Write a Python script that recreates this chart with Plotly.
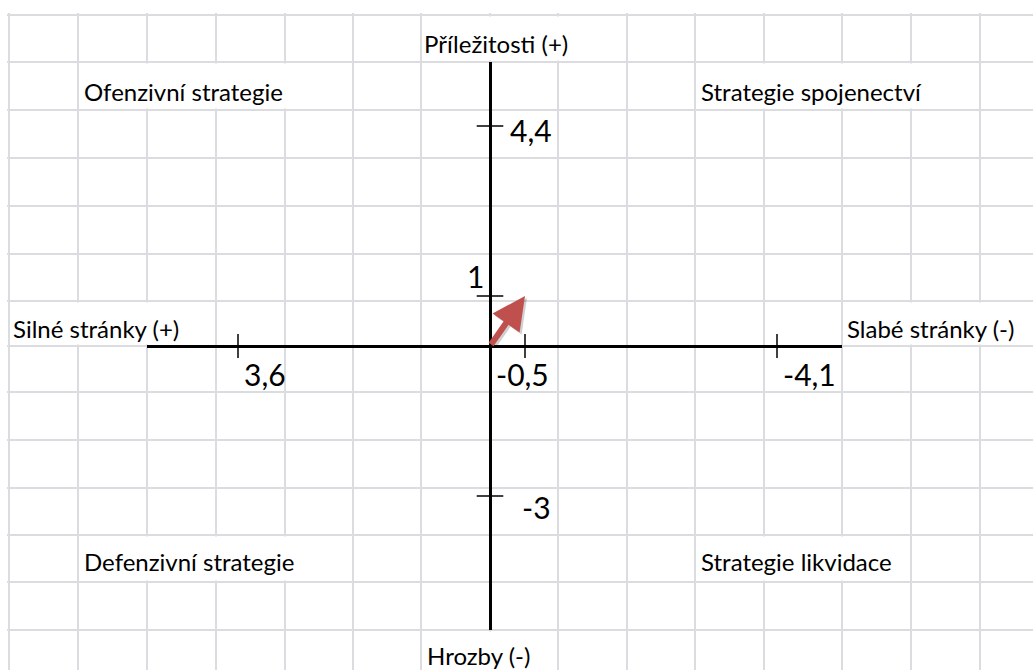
"""SWOT strategy chart drawn over an Excel-like sheet grid."""

import plotly.graph_objects as go

# axis values (x grows to the left: strengths +, weaknesses -)
x_ticks = [3.6, -0.5, -4.1]
x_tick_labels = ["3,6", "-0,5", "-4,1"]
y_ticks = [4.4, 1, -3]
y_tick_labels = ["4,4", "1", "-3"]

# resulting strategy vector
vector_x = [-0.5]
vector_y = [1]

axis_names = ["Příležitosti (+)", "Silné stránky (+)", "Slabé stránky (-)", "Hrozby (-)"]
quadrant_names = ["Ofenzivní strategie", "Strategie spojenectví",
                  "Defenzivní strategie", "Strategie likvidace"]

# ---- sheet layout (pixels) ----
W, H = 1033, 670
COL_EDGES = [9, 78, 147, 216, 285, 353, 421, 490, 558, 627, 695, 764, 842, 911, 980]
ROW_EDGES = [15, 62, 110, 158, 206, 254, 301, 346, 392, 440, 488, 535, 582, 630]
GRID = "#dadcdf"
RED = "#c0504d"
FONT = "Lato"

# cells where overflowing text hides the grid lines: (x0, x1, y0, y1)
text_cells = [
    (421, 627, 15, 62), (78, 353, 62, 110), (695, 980, 62, 110),
    (9, 216, 301, 346), (842, 1040, 301, 346),
    (78, 353, 535, 582), (695, 911, 535, 582), (421, 558, 630, 680),
]
axis_name_pos = [(422, 43), (11, 328), (845, 328), (425, 655)]
quadrant_pos = [(82, 91), (699, 91), (82, 561), (699, 561)]

# origin of the chart at pixel (490, 346); 70 px per unit in x, 50 px in y
OX, OY, KX, KY = 490, 346, 70.0, 50.0
X0, X1, Y0, Y1 = 147, 842, 62, 630

fig = go.Figure()

fig.add_trace(go.Scatter(
    x=x_ticks, y=[0] * len(x_ticks), mode="markers", xaxis="x2", yaxis="y2",
    marker=dict(symbol="line-ns", size=17, line=dict(width=1.5, color="black")),
    hoverinfo="skip", showlegend=False))
fig.add_trace(go.Scatter(
    x=[0] * len(y_ticks), y=y_ticks, mode="markers", xaxis="x2", yaxis="y2",
    marker=dict(symbol="line-ew", size=19, line=dict(width=1.5, color="black")),
    hoverinfo="skip", showlegend=False))

shapes = []
for x0, x1, y0, y1 in text_cells:
    shapes.append(dict(type="rect", xref="x", yref="y", layer="between",
                       x0=x0 + 1.5, x1=x1 - 1.5, y0=y0 + 1.5, y1=y1 - 1.5,
                       fillcolor="white", line=dict(width=0)))

annotations = []
for name, (px, py) in zip(axis_names + quadrant_names, axis_name_pos + quadrant_pos):
    annotations.append(dict(text=name, x=px, y=py, xref="x", yref="y",
                            xanchor="left", yanchor="middle", showarrow=False,
                            font=dict(family=FONT, size=24, color="black")))

x_label_place = [("left", 4), ("center", -3), ("left", 4)]
for v, t, (anchor, dx) in zip(x_ticks, x_tick_labels, x_label_place):
    annotations.append(dict(text=t, x=v, y=0, xref="x2", yref="y2",
                            xanchor=anchor, yanchor="middle", xshift=dx, yshift=-28,
                            showarrow=False, font=dict(family=FONT, size=30, color="black")))

y_label_place = [("left", 18, -4), ("right", -4, 20), ("left", 30, -11)]
for v, t, (anchor, dx, dy) in zip(y_ticks, y_tick_labels, y_label_place):
    annotations.append(dict(text=t, x=0, y=v, xref="x2", yref="y2",
                            xanchor=anchor, yanchor="middle", xshift=dx, yshift=dy,
                            showarrow=False, font=dict(family=FONT, size=30, color="black")))

# shadow + arrow
for color, sx, sy in [("rgba(0,0,0,0.18)", 2, -2), (RED, 0, 0)]:
    annotations.append(dict(x=vector_x[0], y=vector_y[0], ax=0, ay=0,
                            xref="x2", yref="y2", axref="x2", ayref="y2",
                            text="", showarrow=True, arrowhead=2, arrowsize=1.1,
                            arrowwidth=6, arrowcolor=color, xshift=sx, yshift=sy))

fig.update_layout(
    width=W, height=H, autosize=False,
    margin=dict(l=0, r=0, t=0, b=0, pad=0),
    paper_bgcolor="white", plot_bgcolor="rgba(0,0,0,0)",
    showlegend=False,
    xaxis=dict(domain=[7 / W, 1], range=[7, W], tickvals=COL_EDGES, showticklabels=False,
               ticks="", showgrid=True, gridcolor=GRID, gridwidth=2, zeroline=False,
               fixedrange=True),
    yaxis=dict(domain=[0, 1 - 13 / H], range=[H, 13], tickvals=ROW_EDGES, showticklabels=False,
               ticks="", showgrid=True, gridcolor=GRID, gridwidth=2, zeroline=False,
               fixedrange=True),
    xaxis2=dict(domain=[X0 / W, X1 / W], range=[(OX - X0) / KX, (OX - X1) / KX],
                anchor="y2", showgrid=False, showticklabels=False, ticks="",
                zeroline=True, zerolinecolor="black", zerolinewidth=2.5, fixedrange=True),
    yaxis2=dict(domain=[1 - Y1 / H, 1 - Y0 / H], range=[(OY - Y1) / KY, (OY - Y0) / KY],
                anchor="x2", showgrid=False, showticklabels=False, ticks="",
                zeroline=True, zerolinecolor="black", zerolinewidth=2.5, fixedrange=True),
    shapes=shapes,
    annotations=annotations,
)

# the page's default body margin would shift the sheet; remove it
fig.write_html("out.html", config={"displayModeBar": False},
               post_script="document.body.style.margin = '0';")
